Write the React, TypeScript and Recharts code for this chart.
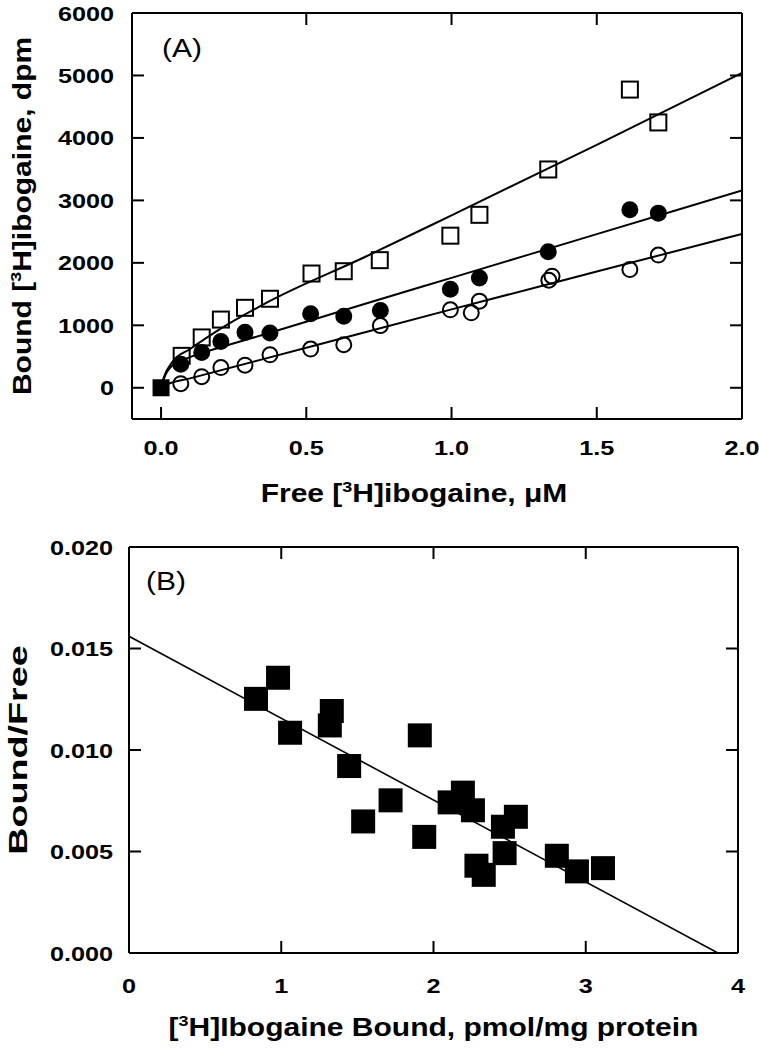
import React from "react";
import {
  ComposedChart,
  Line,
  Scatter,
  XAxis,
  YAxis,
  ReferenceLine,
  Label,
} from "recharts";

// ---- panel A: bound vs free [3H]ibogaine (dpm vs uM) ----
const aXTicks = [0, 0.5, 1, 1.5, 2];
const aYTicks = [0, 1000, 2000, 3000, 4000, 5000, 6000];

const aOpenSquares = [
  [0.071, 511], [0.14, 806], [0.206, 1092], [0.289, 1280], [0.375, 1425],
  [0.518, 1829], [0.629, 1866], [0.753, 2043], [0.996, 2435], [1.096, 2769],
  [1.333, 3495], [1.614, 4774], [1.712, 4248],
];
const aFilledCircles = [
  [0.068, 377], [0.14, 565], [0.206, 742], [0.289, 887], [0.375, 876],
  [0.515, 1184], [0.629, 1145], [0.755, 1237], [0.996, 1576], [1.096, 1758],
  [1.333, 2177], [1.614, 2850], [1.712, 2796],
];
const aOpenCircles = [
  [0.068, 65], [0.14, 177], [0.206, 323], [0.289, 361], [0.375, 527],
  [0.515, 619], [0.629, 689], [0.755, 995], [0.996, 1248], [1.068, 1200],
  [1.096, 1387], [1.335, 1721], [1.346, 1786], [1.614, 1893], [1.712, 2124],
];
const aOrigin = [[0, 0]];

// fitted curves
const aFitTop = [
  [0, 0], [0.01, 170], [0.04, 420], [0.1, 620], [0.2, 930], [0.375, 1390],
  [0.7, 2090], [1.0, 2760], [1.5, 3890], [2.0, 5040],
];
const aFitMid = [
  [0, 0], [0.01, 150], [0.04, 360], [0.1, 490], [0.2, 640], [0.375, 880],
  [0.7, 1340], [1.0, 1760], [1.5, 2460], [2.0, 3160],
];
const aFitLow = [
  [0, 0], [0.02, 50], [0.1, 150], [0.5, 640], [1.0, 1255], [1.5, 1860], [2.0, 2463],
];

// ---- panel B: Scatchard plot ----
const bXTicks = [0, 1, 2, 3, 4];
const bYTicks = [0, 0.005, 0.01, 0.015, 0.02];

const bPoints = [
  [0.834, 0.01252], [0.979, 0.01356], [1.058, 0.01085], [1.332, 0.01192],
  [1.319, 0.01121], [1.446, 0.00921], [1.91, 0.01072], [1.718, 0.00752],
  [1.538, 0.00648], [2.106, 0.00742], [2.193, 0.0079], [2.259, 0.00703],
  [1.939, 0.00572], [2.541, 0.00671], [2.456, 0.00622], [2.467, 0.00492],
  [2.282, 0.0043], [2.33, 0.00385], [2.81, 0.00479], [2.942, 0.00402],
  [3.113, 0.00418],
];
const bFit = [
  [0, 0.0156], [3.868, 0],
];

const toXY = (pts: number[][]) => pts.map(([x, y]) => ({ x, y }));

const FONT = "'Liberation Sans', Arial, Helvetica, sans-serif";
const TICK = 12;
const W = 759;

// frame edges in each chart's own coordinates
const FA = { left: 132, right: 742, top: 13, bottom: 419 };
const FB = { left: 129, right: 738, top: 27, bottom: 433 };
const HA = 520;
const HB = 530;

function SText({
  x, y, anchor = "middle", size, bold = true, sx = 1.2, rotate = 0, children,
}: any) {
  return (
    <text
      transform={`translate(${x},${y}) rotate(${rotate}) scale(${sx},1)`}
      textAnchor={anchor}
      fontFamily={FONT}
      fontSize={size}
      fontWeight={bold ? 700 : 400}
      fill="#000"
    >
      {children}
    </text>
  );
}

const sup = (s: string) => [
  <tspan key="s" fontSize={15} dy={-10}>{s}</tspan>,
];

const makeXTick = (frame: any, fmt: (v: number) => string, gap: number, skipTop: number[]) =>
  (p: any) => {
    const v = p.payload.value;
    return (
      <g>
        <line x1={p.x} x2={p.x} y1={p.y} y2={p.y - TICK} stroke="#000" strokeWidth={2} />
        {!skipTop.includes(v) && (
          <line x1={p.x} x2={p.x} y1={frame.top} y2={frame.top + TICK} stroke="#000" strokeWidth={2} />
        )}
        <SText x={p.x} y={p.y + gap} size={21}>{fmt(v)}</SText>
      </g>
    );
  };

const makeYTick = (frame: any, fmt: (v: number) => string, gap: number) =>
  (p: any) => {
    const v = p.payload.value;
    return (
      <g>
        <line x1={p.x} x2={p.x + TICK} y1={p.y} y2={p.y} stroke="#000" strokeWidth={2} />
        <line x1={frame.right} x2={frame.right - TICK} y1={p.y} y2={p.y} stroke="#000" strokeWidth={2} />
        <SText x={p.x - gap} y={p.y + 7.5} anchor="end" size={21}>{fmt(v)}</SText>
      </g>
    );
  };

const openSquare = (s: number) => (p: any) => (
  <rect x={p.cx - s / 2} y={p.cy - s / 2} width={s} height={s} fill="none" stroke="#000" strokeWidth={2} />
);
const filledSquare = (s: number) => (p: any) => (
  <rect x={p.cx - s / 2} y={p.cy - s / 2} width={s} height={s} fill="#000" stroke="none" />
);
const circle = (d: number, filled: boolean) => (p: any) => (
  <circle cx={p.cx} cy={p.cy} r={d / 2} fill={filled ? "#000" : "none"} stroke="#000" strokeWidth={2} />
);

const axisLine = { stroke: "#000", strokeWidth: 2 };

function PanelA() {
  return (
    <ComposedChart width={W} height={HA} margin={{ top: FA.top, right: W - FA.right, bottom: 0, left: 0 }}>
      <XAxis
        type="number"
        dataKey="x"
        domain={[-0.1, 2]}
        ticks={aXTicks}
        interval={0}
        allowDataOverflow
        height={HA - FA.bottom}
        axisLine={axisLine}
        tickLine={false}
        tickSize={0}
        tickMargin={0}
        tick={makeXTick(FA, (v) => v.toFixed(1), 35.5, [0])}
      >
        <Label
          content={() => (
            <g>
              <SText x={414} y={502} size={25}>
                Free [{sup("3")}<tspan dy={10}>H]ibogaine, μM</tspan>
              </SText>
              <SText x={FA.left + 30} y={FA.top + 44} anchor="start" size={25} bold={false}>(A)</SText>
            </g>
          )}
        />
      </XAxis>
      <YAxis
        type="number"
        dataKey="y"
        domain={[-500, 6000]}
        ticks={aYTicks}
        interval={0}
        allowDataOverflow
        width={FA.left}
        axisLine={axisLine}
        tickLine={false}
        tickSize={0}
        tickMargin={0}
        tick={makeYTick(FA, (v) => String(v), 18)}
      >
        <Label
          content={() => (
            <SText x={31} y={(FA.top + FA.bottom) / 2} rotate={-90} size={25}>
              Bound [{sup("3")}<tspan dy={10}>H]ibogaine, dpm</tspan>
            </SText>
          )}
        />
      </YAxis>
      <ReferenceLine y={6000} stroke="#000" strokeWidth={2} />
      <ReferenceLine x={2} stroke="#000" strokeWidth={2} />
      <Line data={toXY(aFitTop)} dataKey="y" type="monotone" stroke="#000" strokeWidth={2} dot={false} activeDot={false} isAnimationActive={false} />
      <Line data={toXY(aFitMid)} dataKey="y" type="monotone" stroke="#000" strokeWidth={2} dot={false} activeDot={false} isAnimationActive={false} />
      <Line data={toXY(aFitLow)} dataKey="y" type="monotone" stroke="#000" strokeWidth={2} dot={false} activeDot={false} isAnimationActive={false} />
      <Scatter data={toXY(aOpenCircles)} dataKey="y" shape={circle(15, false)} isAnimationActive={false} />
      <Scatter data={toXY(aFilledCircles)} dataKey="y" shape={circle(15, true)} isAnimationActive={false} />
      <Scatter data={toXY(aOpenSquares)} dataKey="y" shape={openSquare(16)} isAnimationActive={false} />
      <Scatter data={toXY(aOrigin)} dataKey="y" shape={filledSquare(17)} isAnimationActive={false} />
    </ComposedChart>
  );
}

function PanelB() {
  return (
    <ComposedChart width={W} height={HB} margin={{ top: FB.top, right: W - FB.right, bottom: 0, left: 0 }}>
      <XAxis
        type="number"
        dataKey="x"
        domain={[0, 4]}
        ticks={bXTicks}
        interval={0}
        allowDataOverflow
        height={HB - FB.bottom}
        axisLine={axisLine}
        tickLine={false}
        tickSize={0}
        tickMargin={0}
        tick={makeXTick(FB, (v) => String(v), 39.5, [0, 4])}
      >
        <Label
          content={() => (
            <g>
              <SText x={(FB.left + FB.right) / 2} y={FB.bottom + 83} size={25}>
                [{sup("3")}<tspan dy={10}>H]Ibogaine Bound, pmol/mg protein</tspan>
              </SText>
              <SText x={FB.left + 17} y={FB.top + 43} anchor="start" size={25} bold={false}>(B)</SText>
            </g>
          )}
        />
      </XAxis>
      <YAxis
        type="number"
        dataKey="y"
        domain={[0, 0.02]}
        ticks={bYTicks}
        interval={0}
        allowDataOverflow
        width={FB.left}
        axisLine={axisLine}
        tickLine={false}
        tickSize={0}
        tickMargin={0}
        tick={makeYTick(FB, (v) => v.toFixed(3), 16)}
      >
        <Label
          content={() => (
            <SText x={27} y={(FB.top + FB.bottom) / 2} rotate={-90} size={26} sx={1.45}>
              Bound/Free
            </SText>
          )}
        />
      </YAxis>
      <ReferenceLine y={0.02} stroke="#000" strokeWidth={2} />
      <ReferenceLine x={4} stroke="#000" strokeWidth={2} />
      <Line data={toXY(bFit)} dataKey="y" type="linear" stroke="#000" strokeWidth={1.6} dot={false} activeDot={false} isAnimationActive={false} />
      <Scatter data={toXY(bPoints)} dataKey="y" shape={filledSquare(24)} isAnimationActive={false} />
    </ComposedChart>
  );
}

export default function App() {
  return (
    <div style={{ position: "absolute", left: 0, top: 0, width: W, height: 1050, background: "#fff" }}>
      <div style={{ position: "absolute", left: 0, top: 0 }}>
        <PanelA />
      </div>
      <div style={{ position: "absolute", left: 0, top: HA }}>
        <PanelB />
      </div>
    </div>
  );
}
